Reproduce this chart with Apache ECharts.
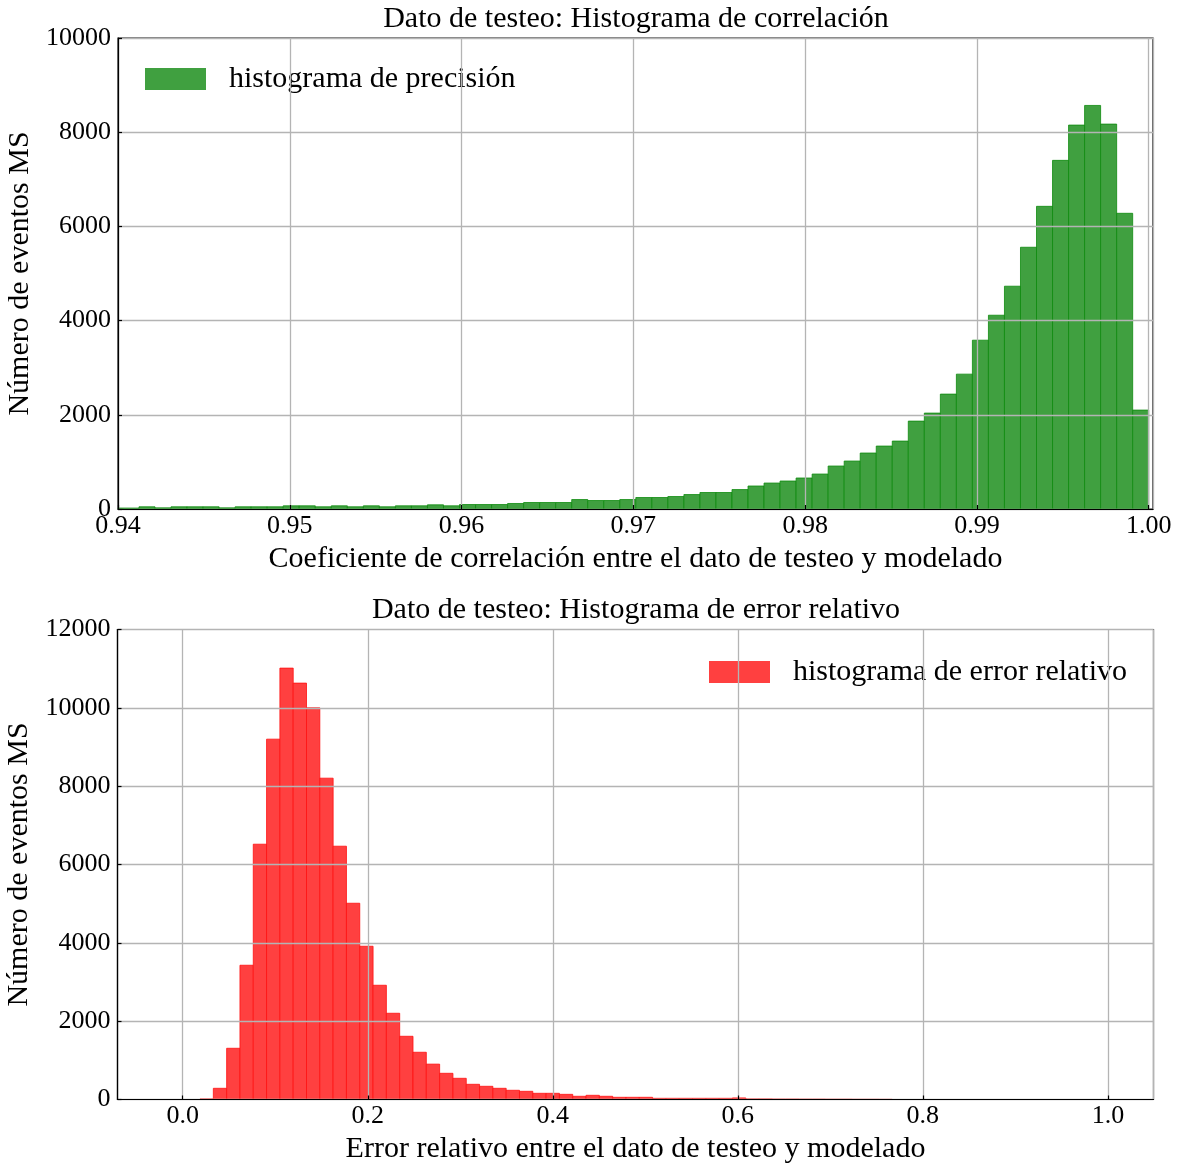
<!DOCTYPE html>
<html>
<head>
<meta charset="utf-8">
<script src="https://cdn.jsdelivr.net/npm/echarts@6/dist/echarts.min.js"></script>
<style>
  html, body { margin: 0; padding: 0; background: #fff; }
  #chart { width: 1180px; height: 1166px; }
</style>
</head>
<body>
<div id="chart"></div>
<script>
// ---------- Data ----------
// Top histogram: correlation coefficient (bin edges start + width, counts per bin)
const corrFirstEdge = 0.939355;
const corrBinWidth = 0.000933;
const corrCounts = [
  20, 20, 47, 25, 47, 47, 47, 25, 47, 47,
  47, 68, 68, 47, 68, 47, 68, 47, 68, 68,
  89, 68, 95, 95, 95, 117, 138, 138, 138, 201,
  180, 180, 201, 244, 244, 265, 307, 350, 350, 413,
  488, 551, 594, 658, 742, 912, 1018, 1188, 1336, 1442,
  1866, 2036, 2439, 2863, 3584, 4114, 4730, 5557, 6426, 7402,
  8151, 8568, 8172, 6278, 2100
];
// Bottom histogram: relative error
const errFirstEdge = 0.0187;
const errBinWidth = 0.014388;
const errCounts = [
  15, 286, 1308, 3428, 6518, 9200, 11014, 10631, 10000, 8204,
  6467, 5011, 3913, 2917, 2202, 1614, 1206, 903, 669, 541,
  388, 337, 286, 235, 209, 158, 158, 132, 82, 107,
  82, 56, 56, 56, 30, 30, 30, 30, 30, 30,
  40, 15, 15, 12, 12, 10, 10, 8, 8, 6, 6, 5
];

const corrXTicks = ['0.94', '0.95', '0.96', '0.97', '0.98', '0.99', '1.00'];
const errXTicks = ['0.0', '0.2', '0.4', '0.6', '0.8', '1.0'];

const titleTop = 'Dato de testeo: Histograma de correlación';
const titleBottom = 'Dato de testeo: Histograma de error relativo';
const xNameTop = 'Coeficiente de correlación entre el dato de testeo y modelado';
const xNameBottom = 'Error relativo entre el dato de testeo y modelado';
const yName = 'Número de eventos MS';
const legendTop = 'histograma de precisión';
const legendBottom = 'histograma de error relativo';

// ---------- Build ----------
function toBins(first, width, counts) {
  return counts.map((c, i) => [first + i * width, first + (i + 1) * width, c]);
}
const corrData = toBins(corrFirstEdge, corrBinWidth, corrCounts);
const errData = toBins(errFirstEdge, errBinWidth, errCounts);

const FONT = '"Liberation Serif", "DejaVu Serif", serif';

function histRender(fill, stroke) {
  return function (params, api) {
    const p0 = api.coord([api.value(0), api.value(2)]);
    const p1 = api.coord([api.value(1), 0]);
    const rect = echarts.graphic.clipRectByRect(
      { x: p0[0], y: p0[1], width: p1[0] - p0[0], height: p1[1] - p0[1] },
      { x: params.coordSys.x, y: params.coordSys.y, width: params.coordSys.width, height: params.coordSys.height }
    );
    if (!rect) return null;
    return {
      type: 'rect',
      shape: rect,
      style: { fill: fill, stroke: stroke, lineWidth: 0.8 }
    };
  };
}

const gridLine = { show: true, lineStyle: { color: '#b4b4b4', width: 1.3 } };
const tick = { show: true, inside: true, length: 4, lineStyle: { color: '#000', width: 1.2 } };
const axisLine = { show: true, onZero: false, lineStyle: { color: '#000', width: 1.2 } };
const tickFont = { color: '#000', fontFamily: FONT, fontSize: 26 };
const nameFont = { color: '#000', fontFamily: FONT, fontSize: 30 };

const chart = echarts.init(document.getElementById('chart'), null, { renderer: 'canvas' });
chart.setOption({
  animation: false,
  backgroundColor: '#fff',
  title: [
    { text: titleTop, left: 636, top: 4, textAlign: 'center', padding: 0,
      textStyle: { fontFamily: FONT, fontSize: 30, fontWeight: 'normal', color: '#000' } },
    { text: titleBottom, left: 636, top: 595, textAlign: 'center', padding: 0,
      textStyle: { fontFamily: FONT, fontSize: 30, fontWeight: 'normal', color: '#000' } }
  ],
  legend: [
    { data: [legendTop], left: 145, top: 64, itemWidth: 61, itemHeight: 22, itemGap: 0, padding: 0,
      icon: 'rect', selectedMode: false,
      textStyle: { fontFamily: FONT, fontSize: 30, color: '#000', padding: [0, 0, 0, 18] } },
    { data: [legendBottom], left: 709, top: 657, itemWidth: 61, itemHeight: 22, itemGap: 0, padding: 0,
      icon: 'rect', selectedMode: false,
      textStyle: { fontFamily: FONT, fontSize: 30, color: '#000', padding: [0, 0, 0, 18] } }
  ],
  grid: [
    { left: 118, top: 38, width: 1035, height: 471, show: true, borderColor: '#000', borderWidth: 1.2,
      backgroundColor: 'transparent', containLabel: false, outerBoundsMode: 'none' },
    { left: 117.5, top: 629.5, width: 1036, height: 470, show: true, borderColor: '#000', borderWidth: 1.2,
      backgroundColor: 'transparent', containLabel: false, outerBoundsMode: 'none' }
  ],
  xAxis: [
    { type: 'value', gridIndex: 0, min: 0.94, max: 1.00025, interval: 0.01, z: 5,
      axisLine: axisLine, axisTick: tick, splitLine: gridLine,
      axisLabel: { ...tickFont, margin: 4, showMaxLabel: false,
        formatter: v => { const s = v.toFixed(2); return corrXTicks.includes(s) ? s : ''; } },
      name: xNameTop, nameLocation: 'middle', nameGap: 35, nameTextStyle: nameFont },
    { type: 'value', gridIndex: 1, min: -0.0705, max: 1.0493, splitNumber: 5, z: 5,
      axisLine: axisLine, axisTick: tick, splitLine: gridLine,
      axisLabel: { ...tickFont, margin: 4, showMinLabel: false, showMaxLabel: false,
        formatter: v => { const s = v.toFixed(1); return errXTicks.includes(s) && Math.abs(v * 10 - Math.round(v * 10)) < 1e-6 ? s : ''; } },
      name: xNameBottom, nameLocation: 'middle', nameGap: 35, nameTextStyle: nameFont }
  ],
  yAxis: [
    { type: 'value', gridIndex: 0, min: 0, max: 10000, interval: 2000, z: 5,
      axisLine: axisLine, axisTick: tick, splitLine: gridLine,
      axisLabel: { ...tickFont, margin: 7, formatter: v => String(v) },
      name: yName, nameLocation: 'middle', nameGap: 80, nameRotate: 90, nameTextStyle: nameFont },
    { type: 'value', gridIndex: 1, min: 0, max: 12000, interval: 2000, z: 5,
      axisLine: axisLine, axisTick: tick, splitLine: gridLine,
      axisLabel: { ...tickFont, margin: 7, formatter: v => String(v) },
      name: yName, nameLocation: 'middle', nameGap: 80, nameRotate: 90, nameTextStyle: nameFont }
  ],
  series: [
    { type: 'custom', name: legendTop, xAxisIndex: 0, yAxisIndex: 0, z: 2,
      itemStyle: { color: '#40a040' },
      renderItem: histRender('#40a040', '#0e8a0e'),
      encode: { x: [0, 1], y: 2 }, data: corrData },
    { type: 'custom', name: legendBottom, xAxisIndex: 1, yAxisIndex: 1, z: 2,
      itemStyle: { color: '#ff4040' },
      renderItem: histRender('#ff4040', '#ff1010'),
      encode: { x: [0, 1], y: 2 }, data: errData }
  ]
});
</script>
</body>
</html>
